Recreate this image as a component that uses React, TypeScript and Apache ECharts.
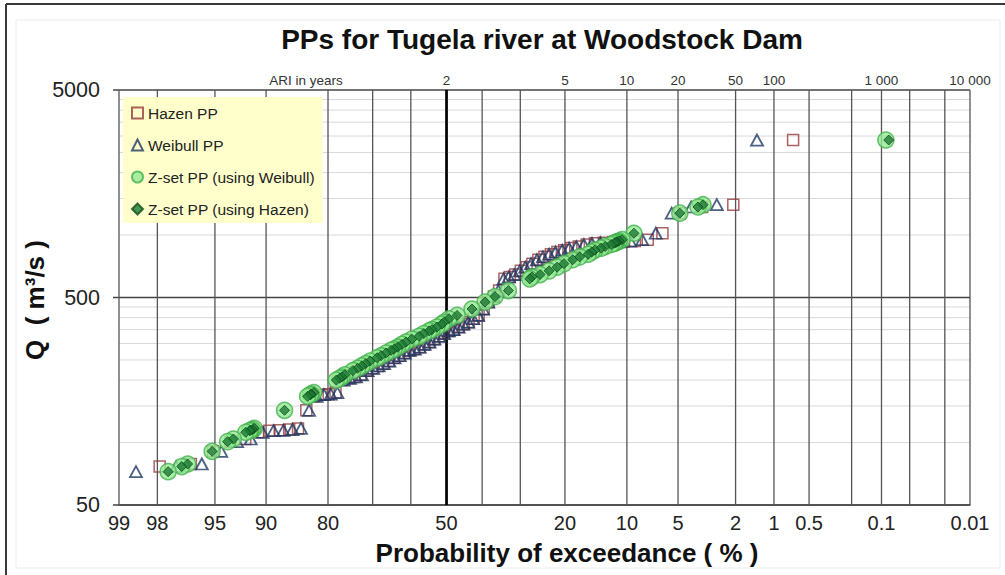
import React, { useEffect, useRef } from 'react';
import * as echarts from 'echarts';

// ---- data ----
const Q_VALUES = [2870, 1400, 1365, 1275, 1020, 950, 935, 928, 922, 918, 912, 900, 880, 865, 845, 828, 808, 785, 760, 728, 700, 672, 645, 628, 615, 540, 505, 475, 440, 410, 395, 380, 372, 360, 350, 345, 335, 325, 315, 305, 297, 288, 282, 278, 270, 262, 256, 247, 240, 234, 228, 222, 212, 207, 204, 200, 174, 171, 170, 167, 143, 117, 115.5, 114.5, 114, 112, 104, 101, 90.7, 78.8, 76.6, 72.4];

const HAZEN_PCT = [0.69, 2.08, 3.47, 4.86, 6.25, 7.64, 9.03, 10.42, 11.81, 13.19, 14.58, 15.97, 17.36, 18.75, 20.14, 21.53, 22.92, 24.31, 25.69, 27.08, 28.47, 29.86, 31.25, 32.64, 34.03, 35.42, 36.81, 38.19, 39.58, 40.97, 42.36, 43.75, 45.14, 46.53, 47.92, 49.31, 50.69, 52.08, 53.47, 54.86, 56.25, 57.64, 59.03, 60.42, 61.81, 63.19, 64.58, 65.97, 67.36, 68.75, 70.14, 71.53, 72.92, 74.31, 75.69, 77.08, 78.47, 79.86, 81.25, 82.64, 84.03, 85.42, 86.81, 88.19, 89.58, 90.97, 92.36, 93.75, 95.14, 96.53, 97.92, 99.31];

const WEIBULL_PCT = [1.37, 2.74, 4.11, 5.48, 6.85, 8.22, 9.59, 10.96, 12.33, 13.70, 15.07, 16.44, 17.81, 19.18, 20.55, 21.92, 23.29, 24.66, 26.03, 27.40, 28.77, 30.14, 31.51, 32.88, 34.25, 35.62, 36.99, 38.36, 39.73, 41.10, 42.47, 43.84, 45.21, 46.58, 47.95, 49.32, 50.68, 52.05, 53.42, 54.79, 56.16, 57.53, 58.90, 60.27, 61.64, 63.01, 64.38, 65.75, 67.12, 68.49, 69.86, 71.23, 72.60, 73.97, 75.34, 76.71, 78.08, 79.45, 80.82, 82.19, 83.56, 84.93, 86.30, 87.67, 89.04, 90.41, 91.78, 93.15, 94.52, 95.89, 97.26, 98.63];

const ZSET_WEIBULL_PCT = [0.09, 3.42, 3.70, 4.87, 9.15, 10.6, 11.0, 11.3, 11.4, 11.5, 11.7, 12.1, 13.0, 13.6, 14.6, 15.1, 15.7, 17.2, 18.5, 20.2, 21.6, 23.3, 25.3, 27.2, 27.7, 33.0, 36.5, 39.2, 42.8, 47.0, 49.3, 50.7, 51.3, 52.7, 54.1, 54.9, 56.4, 57.7, 59.7, 61.3, 62.4, 63.6, 64.5, 65.3, 66.6, 67.9, 68.9, 70.6, 71.7, 72.6, 73.6, 74.7, 76.5, 77.1, 77.6, 78.3, 82.7, 83.2, 83.3, 83.8, 87.5, 91.4, 91.6, 91.8, 91.9, 92.3, 93.5, 94.0, 95.2, 96.7, 97.0, 97.6];

const ZSET_HAZEN_PCT = [0.084, 3.42, 3.70, 4.87, 9.15, 10.6, 11.0, 11.3, 11.4, 11.5, 11.7, 12.1, 13.0, 13.6, 14.6, 15.1, 15.7, 17.2, 18.5, 20.2, 21.6, 23.3, 25.3, 27.2, 27.7, 33.0, 36.5, 39.2, 42.8, 47.0, 49.3, 50.7, 51.3, 52.7, 54.1, 54.9, 56.4, 57.7, 59.7, 61.3, 62.4, 63.6, 64.5, 65.3, 66.6, 67.9, 68.9, 70.6, 71.7, 72.6, 73.6, 74.7, 76.5, 77.1, 77.6, 78.3, 82.7, 83.2, 83.3, 83.8, 87.5, 91.4, 91.6, 91.8, 91.9, 92.3, 93.5, 94.0, 95.2, 96.7, 97.0, 97.6];

const GRID_PROBS = [99, 98, 95, 90, 80, 70, 60, 50, 40, 30, 20, 10, 5, 2, 1, 0.5, 0.2, 0.1, 0.05, 0.02, 0.01];
const BOTTOM_LABELS = ['99', '98', '95', '90', '80', '', '', '50', '', '', '20', '10', '5', '2', '1', '0.5', '', '0.1', '', '', '0.01'];
const ARI_LABELS = ['', '', '', '', '', '', '', '2', '', '', '5', '10', '20', '50', '100', '', '', '1 000', '', '', '10 000'];
const Y_MAJOR = [50, 500, 5000];
const Y_MINOR = [100, 150, 200, 250, 300, 350, 400, 450, 1000, 1500, 2000, 2500, 3000, 3500, 4000, 4500];
const Y_MIN = 50;
const Y_MAX = 5000;

const SERIES_NAMES = ['Hazen PP', 'Weibull PP', 'Z-set PP (using Weibull)', 'Z-set PP (using Hazen)'];

const FONT = '"Liberation Sans", Arial, Helvetica, sans-serif';

// inverse standard normal (Acklam)
function normInv(p: number): number {
  const a = [-3.969683028665376e1, 2.209460984245205e2, -2.759285104469687e2, 1.38357751867269e2, -3.066479806614716e1, 2.506628277459239];
  const b = [-5.447609879822406e1, 1.615858368580409e2, -1.556989798598866e2, 6.680131188771972e1, -1.328068155288572e1];
  const c = [-7.784894002430293e-3, -3.223964580411365e-1, -2.400758277161838, -2.549732539343734, 4.374664141464968, 2.938163982698783];
  const d = [7.784695709041462e-3, 3.224671290700398e-1, 2.445134137142996, 3.754408661907416];
  const pl = 0.02425;
  const ph = 1 - pl;
  let q: number, r: number;
  if (p < pl) {
    q = Math.sqrt(-2 * Math.log(p));
    return (((((c[0] * q + c[1]) * q + c[2]) * q + c[3]) * q + c[4]) * q + c[5]) / ((((d[0] * q + d[1]) * q + d[2]) * q + d[3]) * q + 1);
  }
  if (p <= ph) {
    q = p - 0.5;
    r = q * q;
    return ((((((a[0] * r + a[1]) * r + a[2]) * r + a[3]) * r + a[4]) * r + a[5]) * q) / (((((b[0] * r + b[1]) * r + b[2]) * r + b[3]) * r + b[4]) * r + 1);
  }
  q = Math.sqrt(-2 * Math.log(1 - p));
  return -(((((c[0] * q + c[1]) * q + c[2]) * q + c[3]) * q + c[4]) * q + c[5]) / ((((d[0] * q + d[1]) * q + d[2]) * q + d[3]) * q + 1);
}
const zOf = (pct: number) => normInv(1 - pct / 100);

const X_MIN = zOf(GRID_PROBS[0]);
const X_MAX = zOf(GRID_PROBS[GRID_PROBS.length - 1]);

export default function App() {
  const ref = useRef<HTMLDivElement>(null);
  useEffect(() => {
    if (!ref.current) return;
    const chart = echarts.init(ref.current, null, { renderer: 'svg' });

    const pts = (pcts: number[]) => Q_VALUES.map((q, i) => [zOf(pcts[i]), q]);
    const txt = (text: string, size: number, extra: any = {}) => ({
      text,
      fontSize: size,
      fontFamily: FONT,
      fill: '#222',
      align: 'center',
      verticalAlign: 'middle',
      textAlign: 'center',
      textVerticalAlign: 'middle',
      ...extra,
    });

    const option: any = {
      animation: false,
      backgroundColor: '#ffffff',
      grid: { left: 119, right: 35, top: 90, bottom: 70, containLabel: false },
      xAxis: {
        type: 'value',
        min: X_MIN,
        max: X_MAX,
        axisLine: { show: true, lineStyle: { color: '#555', width: 1.5 } },
        axisTick: { show: false },
        axisLabel: { show: false },
        splitLine: { show: false },
      },
      yAxis: {
        type: 'log',
        logBase: 10,
        min: Y_MIN,
        max: Y_MAX,
        axisLine: { show: true, lineStyle: { color: '#555', width: 1.5 } },
        axisTick: { show: false },
        axisLabel: { show: false },
        splitLine: { show: false },
      },
      legend: {
        orient: 'vertical',
        left: 123,
        top: 97,
        backgroundColor: '#FFFFCC',
        padding: [8, 8, 6, 8],
        itemGap: 16,
        itemWidth: 11,
        itemHeight: 11,
        selectedMode: false,
        textStyle: { fontSize: 15.5, color: '#222', fontFamily: FONT },
        data: SERIES_NAMES,
      },
      graphic: [
        { type: 'line', shape: { x1: 6, y1: 4, x2: 1005, y2: 4 }, style: { stroke: '#3a3a3a', lineWidth: 2 } },
        { type: 'line', shape: { x1: 6, y1: 4, x2: 6, y2: 575 }, style: { stroke: '#3a3a3a', lineWidth: 2 } },
        { type: 'rect', z: -10, shape: { x: 16, y: 20, width: 984, height: 548 }, style: { fill: 'none', stroke: '#ececec', lineWidth: 1 } },
        { type: 'text', x: 542, y: 39, style: txt('PPs for Tugela river at Woodstock Dam', 28, { fontWeight: 'bold', fill: '#111' }) },
        { type: 'text', x: 567, y: 553, style: txt('Probability of exceedance ( % )', 26, { fontWeight: 'bold', fill: '#111' }) },
        { type: 'text', x: 35, y: 300, rotation: Math.PI / 2, style: txt('Q  ( m³/s )', 26, { fontWeight: 'bold', fill: '#111' }) },
        { type: 'text', x: 306, y: 80, style: txt('ARI in years', 13.5, { fill: '#333' }) },
      ],
      series: [
        {
          type: 'custom',
          name: 'hminor',
          z: 1,
          silent: true,
          clip: false,
          data: Y_MINOR.map((q) => [X_MIN, q]),
          renderItem: (params: any, api: any) => {
            const q = api.value(1);
            const a = api.coord([X_MIN, q]);
            const b = api.coord([X_MAX, q]);
            return {
              type: 'line',
              shape: { x1: a[0], y1: a[1], x2: b[0], y2: b[1] },
              style: { stroke: '#d9d9d9', lineWidth: 1 },
            };
          },
        },
        {
          type: 'custom',
          name: 'hmajor',
          z: 2,
          silent: true,
          clip: false,
          data: Y_MAJOR.map((q) => [X_MIN, q]),
          renderItem: (params: any, api: any) => {
            const q = api.value(1);
            const a = api.coord([X_MIN, q]);
            const b = api.coord([X_MAX, q]);
            return {
              type: 'group',
              children: [
                {
                  type: 'line',
                  shape: { x1: a[0] - 6, y1: a[1], x2: b[0], y2: b[1] },
                  style: { stroke: '#444', lineWidth: 1.5 },
                },
                {
                  type: 'text',
                  x: a[0] - 19,
                  y: a[1],
                  style: txt(String(q), 21.5, { align: 'right', textAlign: 'right' }),
                },
              ],
            };
          },
        },
        {
          type: 'custom',
          name: 'vgrid',
          z: 2,
          silent: true,
          clip: false,
          data: GRID_PROBS.map((p) => [zOf(p), Y_MIN]),
          renderItem: (params: any, api: any) => {
            const i = params.dataIndex;
            const z = api.value(0);
            const top = api.coord([z, Y_MAX]);
            const bot = api.coord([z, Y_MIN]);
            const mid = GRID_PROBS[i] === 50;
            const children: any[] = [
              {
                type: 'line',
                shape: { x1: top[0], y1: top[1], x2: bot[0], y2: bot[1] },
                style: { stroke: mid ? '#000' : '#555', lineWidth: mid ? 2.6 : 1.3 },
              },
            ];
            if (BOTTOM_LABELS[i]) {
              children.push({ type: 'text', x: bot[0], y: bot[1] + 18, style: txt(BOTTOM_LABELS[i], 20) });
            }
            if (ARI_LABELS[i]) {
              children.push({ type: 'text', x: top[0], y: top[1] - 10, style: txt(ARI_LABELS[i], 13.5, { fill: '#333' }) });
            }
            return { type: 'group', children };
          },
        },
        {
          type: 'scatter',
          name: SERIES_NAMES[0],
          z: 3,
          clip: true,
          symbol: 'rect',
          symbolSize: 11,
          itemStyle: { color: 'rgba(255,255,255,0)', borderColor: '#953c3c', borderWidth: 1.5 },
          data: pts(HAZEN_PCT),
        },
        {
          type: 'scatter',
          name: SERIES_NAMES[1],
          z: 3,
          clip: true,
          symbol: 'triangle',
          symbolSize: [12, 11],
          itemStyle: { color: 'rgba(255,255,255,0)', borderColor: '#1f3864', borderWidth: 1.8 },
          data: pts(WEIBULL_PCT),
        },
        {
          type: 'scatter',
          name: SERIES_NAMES[2],
          z: 4,
          clip: true,
          symbol: 'circle',
          symbolSize: 16,
          itemStyle: { color: '#92ea92', borderColor: '#45b04f', borderWidth: 1.5 },
          data: pts(ZSET_WEIBULL_PCT),
        },
        {
          type: 'scatter',
          name: SERIES_NAMES[3],
          z: 5,
          clip: true,
          symbol: 'diamond',
          symbolSize: 10,
          itemStyle: { color: '#1e7b34', borderColor: '#0e4d1c', borderWidth: 1 },
          data: pts(ZSET_HAZEN_PCT),
        },
      ],
    };

    chart.setOption(option);
    return () => {
      chart.dispose();
    };
  }, []);

  return (
    <div
      ref={ref}
      style={{ position: 'fixed', left: 0, top: 0, width: 1005, height: 575, background: '#fff' }}
    />
  );
}
